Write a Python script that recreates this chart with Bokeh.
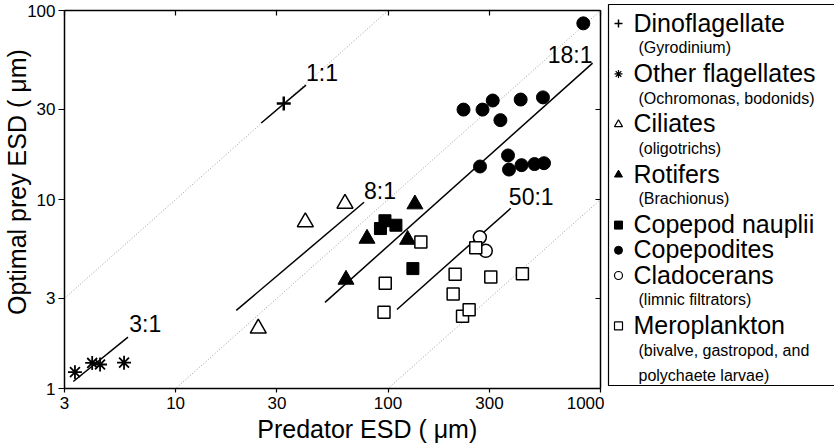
from bokeh.plotting import figure
from bokeh.models import Range1d, FixedTicker, LogAxis, PrintfTickFormatter
from bokeh.layouts import row
from bokeh.embed import file_html
from bokeh.resources import INLINE
from bokeh.core.properties import value

FONT = "Liberation Sans"
NBSP = "\u00a0"

# ---------------- data ----------------
dino_x = [32.3]
dino_y = [32.2]
flag_x = [3.36, 4.05, 4.41, 5.72]
flag_y = [1.22, 1.365, 1.34, 1.37]
cil_x = [24.5, 40.8, 62.7]
cil_y = [2.08, 7.6, 9.52]
rot_x = [63.4, 79.6, 123.6, 133.8]
rot_y = [3.77, 6.21, 6.13, 9.44]
naup_x = [92.1, 96.7, 108.9, 130.9]
naup_y = [7.02, 7.72, 7.31, 4.31]
copd_x = [226.6, 278.4, 311, 338, 421, 536, 271, 367, 371, 425, 489, 542, 830]
copd_y = [29.9, 29.9, 33.4, 26.3, 33.8, 34.7, 14.95, 17.1, 14.4, 15.2, 15.4, 15.56, 85.5]
clad_x = [270.4, 288.4]
clad_y = [6.31, 5.35]
mero_x = [95.7, 97, 142.7, 202.5, 206.9, 224.2, 240.8, 258.8, 304.5, 429]
mero_y = [2.53, 3.61, 5.96, 3.16, 4.02, 2.41, 2.61, 5.56, 3.89, 4.05]

# dotted reference ratio lines (predator:prey)
ref_ratios = [1, 10, 100]
ref_x_span = [3, 1000]

# fitted ratio segments and their labels
seg_labels = ["1:1", "3:1", "8:1", "18:1", "50:1"]
seg_x0 = [25.3, 3.30, 19.3, 50.5, 110.1]
seg_y0 = [25.4, 1.089, 2.59, 2.855, 2.62]
seg_x1 = [41.1, 5.97, 77.1, 918, 378]
seg_y1 = [40.3, 1.87, 9.67, 52.7, 8.99]
lab_x = [48.9, 7.2, 91.6, 719, 472]
lab_y = [46.9, 2.20, 11.1, 58.5, 10.3]

x_ticks = [3, 10, 30, 100, 300, 1000]
y_ticks = [1, 3, 10, 30, 100]

x_title = "Predator ESD ( \u03bcm)"
y_title = "Optimal prey ESD ( \u03bcm)"

leg_names = ["Dinoflagellate", "Other flagellates", "Ciliates", "Rotifers",
             "Copepod nauplii", "Copepodites", "Cladocerans", "Meroplankton"]
leg_subs = [["(Gyrodinium)"], ["(Ochromonas, bodonids)"], ["(oligotrichs)"], ["(Brachionus)"],
            [], [], ["(limnic filtrators)"], ["(bivalve, gastropod, and", " polychaete larvae)"]]

W_MAIN, H = 604, 447
W_LEG = 230

# ---------------- main plot ----------------
p = figure(width=W_MAIN, height=H, x_axis_type="log", y_axis_type="log",
           x_range=Range1d(3, 1000), y_range=Range1d(1, 100),
           output_backend="svg", toolbar_location=None,
           min_border_left=63, min_border_right=4, min_border_top=10, min_border_bottom=59)
p.frame_align = False
p.grid.visible = False
p.outline_line_color = None
p.background_fill_color = "white"

for ax, ticks in ((p.xaxis[0], x_ticks), (p.yaxis[0], y_ticks)):
    ax.ticker = FixedTicker(ticks=ticks)
    ax.formatter = PrintfTickFormatter(format="%d")
    ax.minor_tick_line_color = None
    ax.axis_line_width = 1.5
    ax.major_tick_line_width = 1.2
    ax.major_tick_in = 0
    ax.major_label_text_font = FONT
    ax.major_label_text_font_size = "17px"
    ax.major_label_text_color = "black"
    ax.axis_label_text_font = FONT
    ax.axis_label_text_font_size = "25px"
    ax.axis_label_text_font_style = "normal"
    ax.axis_label_text_color = "black"

# the titles sit off-centre in the reference (shifted toward the text end)
p.xaxis[0].axis_label = NBSP * 10 + x_title
p.xaxis[0].major_tick_out = 4
p.xaxis[0].major_label_standoff = 4
p.xaxis[0].axis_label_standoff = 3
p.yaxis[0].axis_label = NBSP * 5 + y_title
p.yaxis[0].major_tick_out = 6
p.yaxis[0].major_label_standoff = 3
p.yaxis[0].axis_label_standoff = -7

for loc, ticks in (("above", x_ticks), ("right", y_ticks)):
    extra = LogAxis(ticker=FixedTicker(ticks=ticks), formatter=PrintfTickFormatter(format="%d"),
                    major_label_text_font_size="1px", major_label_text_color=None,
                    major_label_standoff=0, major_tick_in=5, major_tick_out=0,
                    minor_tick_line_color=None, axis_line_width=1.5, major_tick_line_width=1.2)
    p.add_layout(extra, loc)

# dotted reference lines
for r in ref_ratios:
    p.line([ref_x_span[0], ref_x_span[1]], [ref_x_span[0] / r, ref_x_span[1] / r],
           line_color="#9a9a9a", line_width=1, line_dash="1 2")

# fitted segments
p.segment(x0=seg_x0, y0=seg_y0, x1=seg_x1, y1=seg_y1, line_color="black", line_width=1.5)
p.text(x=lab_x, y=lab_y, text=seg_labels, text_font=value(FONT), text_font_size="23px",
       text_align="center", text_baseline="middle", text_color="black")

# markers
p.scatter(dino_x, dino_y, marker="cross", size=14, line_color="black", line_width=2.5)
p.scatter(flag_x, flag_y, marker="asterisk", size=14, line_color="black", line_width=1.8)
p.scatter(cil_x, cil_y, marker="triangle", size=16, fill_color="white", line_color="black", line_width=1.5)
p.scatter(rot_x, rot_y, marker="triangle", size=16, fill_color="black", line_color="black")
p.scatter(naup_x, naup_y, marker="square", size=12, fill_color="black", line_color="black")
p.scatter(copd_x, copd_y, marker="circle", size=13, fill_color="black", line_color="black")
p.scatter(clad_x, clad_y, marker="circle", size=13, fill_color="white", line_color="black", line_width=1.5)
p.scatter(mero_x, mero_y, marker="square", size=12, fill_color="white", line_color="black", line_width=1.5)

# ---------------- legend panel ----------------
lg = figure(width=W_LEG, height=H, x_range=Range1d(0, W_LEG), y_range=Range1d(H, 0),
            x_axis_location=None, y_axis_location=None,
            output_backend="svg", toolbar_location=None, min_border=0)
lg.frame_align = False
lg.grid.visible = False
lg.outline_line_color = None
lg.line([W_LEG + 5, 4, 4, W_LEG + 5], [4, 4, 385, 385], line_color="black", line_width=1.2)

leg_markers = [("cross", "black", 1.5), ("asterisk", "black", 1.2), ("triangle", "white", 1.2),
               ("triangle", "black", 1.0), ("square", "black", 1.0), ("circle", "black", 1.0),
               ("circle", "white", 1.2), ("square", "white", 1.2)]
line_h = 25.2
y0 = 22
i = 0
for name, subs, (mk, fc, lw) in zip(leg_names, leg_subs, leg_markers):
    yy = y0 + line_h * i
    lg.scatter([14], [yy + 1], marker=mk, size=8, fill_color=fc, line_color="black", line_width=lw)
    lg.text(x=[29], y=[yy], text=[name], text_font=value(FONT), text_font_size="25px",
            text_baseline="middle", text_align="left", text_color="black")
    i += 1
    for s in subs:
        yy = y0 + line_h * i
        lg.text(x=[34], y=[yy], text=[s], text_font=value(FONT), text_font_size="16px",
                text_baseline="middle", text_align="left", text_color="black")
        i += 1

layout = row(p, lg)
open("out.html", "w").write(file_html(layout, INLINE))
